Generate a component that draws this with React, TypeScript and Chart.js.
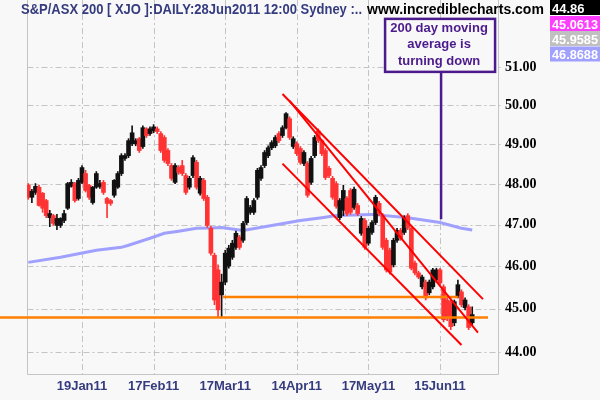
import React, { useEffect, useRef } from 'react';
import { Chart, registerables } from 'chart.js';

Chart.register(...registerables);

const BG = '#f8f8f8';
const GRID = '#c4c4c4';
const UP = '#111111';
const DOWN = '#ff3333';
const NAVY = '#353b7f';
const PURPLE = '#4b1a8c';

// x axis: trading-day index, labelled days
const tickIdx = [15, 35, 55, 75, 95, 115];
const tickLabels = ['19Jan11', '17Feb11', '17Mar11', '14Apr11', '17May11', '15Jun11'];
const priceTicks = [44, 45, 46, 47, 48, 49, 50, 51];

// daily OHLC (index 0 = 24 Dec 2010 ... 124 = 28 Jun 2011)
const opens = [
  47.97, 47.67, 47.79, 47.92, 47.77, 47.59, 47.17, 47.22, 46.98, 46.98,
  47.10, 47.40, 47.94, 48.01, 47.64, 48.04, 48.26, 47.97, 47.54, 47.92,
  47.94, 48.04, 47.64, 47.59, 47.72, 47.92, 48.26, 48.64, 48.71, 49.01,
  49.01, 49.14, 48.94, 49.39, 49.27, 49.34, 49.39, 49.27, 49.17, 48.84,
  48.46, 48.04, 48.41, 48.46, 48.21, 47.92, 48.21, 48.54, 47.77, 48.09,
  47.67, 46.91, 46.26, 45.91, 45.32, 45.62, 46.00, 46.21, 46.45, 46.69,
  46.62, 47.05, 47.30, 47.30, 47.67, 48.14, 48.46, 48.71, 48.91, 48.96,
  49.27, 49.22, 49.42, 49.65, 48.94, 49.01, 48.89, 48.51, 48.51, 48.04,
  48.71, 49.34, 49.09, 48.84, 48.39, 48.14, 48.01, 47.17, 47.35, 47.64,
  47.84, 47.42, 47.47, 46.79, 47.10, 46.55, 46.81, 47.05, 47.52, 47.22,
  46.62, 46.38, 46.03, 46.62, 46.86, 46.81, 47.22, 46.91, 46.07, 45.84,
  45.51, 45.62, 45.37, 45.51, 45.67, 45.91, 45.51, 45.20, 45.16, 44.67,
  45.30, 45.39, 45.02, 45.04, 44.67,
];
const highs = [
  48.01, 47.87, 48.01, 47.97, 47.79, 47.62, 47.35, 47.25, 47.25, 47.17,
  47.35, 48.04, 48.11, 48.04, 48.14, 48.46, 48.34, 47.99, 47.94, 48.31,
  48.09, 48.09, 47.67, 47.62, 48.11, 48.31, 48.76, 48.76, 49.14, 49.47,
  49.14, 49.17, 49.47, 49.42, 49.44, 49.50, 49.44, 49.32, 49.22, 48.89,
  48.51, 48.51, 48.46, 48.59, 48.26, 48.19, 48.71, 48.59, 48.19, 48.14,
  47.72, 46.96, 46.31, 46.03, 45.81, 46.38, 46.50, 46.62, 46.84, 46.74,
  47.08, 47.69, 47.47, 47.64, 48.39, 48.46, 48.84, 48.96, 49.09, 49.22,
  49.32, 49.47, 49.81, 49.70, 49.19, 49.06, 48.94, 48.84, 48.56, 48.69,
  49.22, 49.39, 49.12, 48.89, 48.44, 48.19, 48.06, 47.64, 47.97, 47.69,
  47.89, 47.92, 47.52, 47.20, 47.15, 46.96, 47.10, 47.72, 47.57, 47.27,
  46.67, 46.43, 46.67, 46.91, 46.91, 47.22, 47.27, 46.96, 46.12, 45.88,
  45.79, 45.67, 45.67, 45.95, 45.95, 45.95, 45.56, 45.25, 45.20, 45.20,
  45.67, 45.44, 45.25, 45.09, 45.04,
];
const lows = [
  47.62, 47.54, 47.74, 47.45, 47.30, 47.17, 46.95, 46.98, 46.88, 46.93,
  47.05, 47.37, 47.92, 47.55, 47.60, 48.01, 47.80, 47.62, 47.50, 47.89,
  47.89, 47.74, 47.17, 47.47, 47.67, 47.89, 48.21, 48.59, 48.66, 48.96,
  48.96, 48.79, 48.89, 49.17, 49.22, 49.29, 49.27, 48.79, 48.54, 48.46,
  48.09, 48.01, 48.24, 48.21, 47.74, 47.87, 48.16, 47.87, 47.72, 47.59,
  46.93, 46.26, 45.09, 44.79, 44.79, 45.56, 45.95, 46.16, 46.40, 46.40,
  46.57, 47.00, 47.25, 47.25, 47.62, 48.09, 48.41, 48.66, 48.86, 48.91,
  49.04, 49.17, 49.39, 49.12, 48.89, 48.71, 48.49, 48.46, 47.67, 47.99,
  48.66, 49.04, 48.71, 48.11, 48.16, 47.62, 47.40, 47.12, 47.22, 47.22,
  47.25, 47.37, 47.22, 46.74, 46.40, 46.50, 46.76, 47.00, 47.22, 46.40,
  45.86, 45.81, 45.98, 46.57, 46.62, 46.76, 46.88, 45.91, 45.79, 45.70,
  45.46, 45.20, 45.32, 45.46, 45.62, 45.56, 44.69, 44.72, 44.51, 44.60,
  45.25, 45.04, 44.97, 44.51, 44.60,
];
const closes = [
  47.67, 47.82, 47.94, 47.47, 47.40, 47.22, 47.27, 47.03, 47.15, 47.15,
  47.27, 48.01, 48.04, 47.59, 48.09, 48.41, 47.84, 47.67, 47.92, 48.26,
  48.01, 47.79, 47.52, 47.52, 48.09, 48.26, 48.71, 48.71, 49.09, 49.29,
  49.09, 48.84, 49.42, 49.22, 49.39, 49.44, 49.32, 48.84, 48.59, 48.51,
  48.14, 48.46, 48.29, 48.26, 47.79, 48.14, 48.66, 47.92, 48.14, 47.64,
  46.98, 46.31, 45.20, 44.97, 45.62, 46.31, 46.43, 46.55, 46.79, 46.45,
  47.03, 47.64, 47.42, 47.59, 48.34, 48.41, 48.79, 48.91, 49.04, 49.17,
  49.09, 49.42, 49.78, 49.17, 49.14, 48.76, 48.54, 48.79, 47.72, 48.64,
  49.17, 49.09, 48.76, 48.16, 48.21, 47.67, 47.45, 47.59, 47.84, 47.27,
  47.30, 47.87, 47.27, 47.15, 46.45, 46.91, 47.05, 47.67, 47.27, 46.45,
  45.91, 45.86, 46.62, 46.86, 46.67, 47.17, 46.93, 45.95, 45.84, 45.74,
  45.74, 45.25, 45.62, 45.91, 45.91, 45.60, 44.74, 44.79, 44.58, 45.16,
  45.56, 45.09, 45.20, 44.56, 44.86,
];

// 200-day moving average, read at selected days
const maIdx = [0, 9, 19, 26, 28, 34, 38, 42, 47, 51, 54, 60, 68, 76, 82, 86, 96, 106, 115, 121, 124];
const maVals = [46.09, 46.21, 46.38, 46.45, 46.5, 46.67, 46.79, 46.84, 46.91, 46.92, 46.93, 46.86, 46.98, 47.1, 47.17, 47.22, 47.25, 47.17, 47.05, 46.91, 46.87];

// drawn trend lines (day index, price)
const upperChannelX = [71, 127];
const upperChannelY = [50.29, 45.22];
const steepLineX = [73, 125.6];
const steepLineY = [50.11, 44.44];
const lowerChannelX = [71, 121];
const lowerChannelY = [48.51, 44.16];
const supportLowX = [-7.9, 128.4];
const supportLowY = [44.79, 44.79];
const supportHighX = [54.4, 120];
const supportHighY = [45.27, 45.27];
const noteX = [115.3, 115.3];
const noteY = [50.87, 47.13];

const titleText = 'S&P/ASX 200 [ XJO ]:DAILY:28Jun2011 12:00 Sydney :..';
const siteText = 'www.incrediblecharts.com';
const valueLabels = ['44.86', '45.0613', '45.9585', '46.8688'];
const valueColors = ['#000000', '#ff3cff', '#c0c0c0', '#a0a0ff'];
const noteLines = ['200 day moving', 'average is', 'turning down'];

const pts = (xs: number[], ys: number[]) => xs.map((x, i) => ({ x, y: ys[i] }));

const decor = {
  id: 'decor',
  beforeDraw(chart: any) {
    const { ctx, width, height } = chart;
    ctx.save();
    ctx.fillStyle = BG;
    ctx.fillRect(0, 0, width, height);
    ctx.restore();
  },
  beforeDatasetsDraw(chart: any) {
    const { ctx, chartArea: ca } = chart;
    const xs = chart.scales.x;
    const ys = chart.scales.y;
    const L = Math.round(ca.left) + 0.5;
    const R = Math.round(ca.right) - 0.5;
    const B = Math.round(ca.bottom) + 0.5;
    const seg = (x1: number, y1: number, x2: number, y2: number) => {
      ctx.beginPath();
      ctx.moveTo(x1, y1);
      ctx.lineTo(x2, y2);
      ctx.stroke();
    };
    ctx.save();
    ctx.strokeStyle = GRID;
    ctx.lineWidth = 1;
    ctx.setLineDash([6, 3, 2, 3]);
    ys.ticks.forEach((t: any) => {
      const y = Math.round(ys.getPixelForValue(t.value)) + 0.5;
      seg(L, y, R + 5, y);
    });
    xs.ticks.forEach((t: any) => {
      const x = Math.round(xs.getPixelForValue(t.value)) + 0.5;
      seg(x, 0, x, B);
    });
    ctx.setLineDash([]);
    seg(L, 0, L, B);
    seg(R, 0, R, B);
    seg(L, B, R, B);
    ctx.restore();
  },
  afterDraw(chart: any) {
    const { ctx } = chart;
    const xs = chart.scales.x;
    const ys = chart.scales.y;
    ctx.save();
    ctx.textAlign = 'left';
    ctx.textBaseline = 'alphabetic';
    ctx.font = 'bold 14px "Liberation Sans", Arial, sans-serif';
    ctx.fillStyle = NAVY;
    ctx.fillText(titleText, 21, 14, 341);
    ctx.fillStyle = '#000000';
    ctx.fillText(siteText, 367, 14, 177);

    // value boxes
    const tops = [0, 16, 31, 46.5];
    ctx.font = 'bold 13px "Liberation Sans", Arial, sans-serif';
    valueLabels.forEach((t, i) => {
      ctx.fillStyle = valueColors[i];
      ctx.fillRect(550, tops[i], 50, 15);
      ctx.fillStyle = '#ffffff';
      ctx.fillText(t, 552, tops[i] + 12.5, 46);
    });

    // annotation box
    const px = xs.getPixelForValue(noteX[0]);
    const bottom = ys.getPixelForValue(noteY[0]);
    const left = px - 56;
    const top = bottom - 53;
    ctx.fillStyle = BG;
    ctx.fillRect(left, top, 110, 53);
    ctx.strokeStyle = PURPLE;
    ctx.lineWidth = 2.5;
    ctx.strokeRect(left, top, 110, 53);
    ctx.fillStyle = PURPLE;
    ctx.textAlign = 'center';
    ctx.font = 'bold 13px "Liberation Sans", Arial, sans-serif';
    const bases = [13, 29.5, 46];
    noteLines.forEach((t, i) => ctx.fillText(t, left + 54, top + bases[i], 104));
    ctx.restore();
  },
};

export default function App() {
  const ref = useRef<HTMLCanvasElement | null>(null);
  useEffect(() => {
    if (!ref.current) return;
    const colors = closes.map((c, i) => (c < opens[i] ? DOWN : UP));
    const lineDs = (data: any[], color: string, width: number, order: number, extra: any = {}) => ({
      type: 'line',
      data,
      borderColor: color,
      backgroundColor: color,
      borderWidth: width,
      pointRadius: 0,
      tension: 0,
      order,
      ...extra,
    });
    const chart = new Chart(ref.current, {
      type: 'bar',
      data: {
        datasets: [
          lineDs(pts(maIdx, maVals), '#a0a0ff', 3, 10) as any,
          {
            type: 'bar',
            data: opens.map((o, i) => ({ x: i, y: [lows[i], highs[i]] })),
            backgroundColor: colors,
            barThickness: 1,
            grouped: false,
            borderWidth: 0,
            order: 9,
          },
          {
            type: 'bar',
            data: opens.map((o, i) => ({ x: i, y: [Math.min(o, closes[i]), Math.max(o, closes[i])] })),
            backgroundColor: colors,
            barThickness: 4,
            grouped: false,
            borderWidth: 0,
            order: 8,
          },
          lineDs(pts(supportLowX, supportLowY), '#ff8000', 2.5, 5, { clip: false }) as any,
          lineDs(pts(supportHighX, supportHighY), '#ff8000', 2.5, 5) as any,
          lineDs(pts(upperChannelX, upperChannelY), '#ff0000', 2, 3) as any,
          lineDs(pts(steepLineX, steepLineY), '#ff0000', 2, 3) as any,
          lineDs(pts(lowerChannelX, lowerChannelY), '#ff0000', 2, 3) as any,
          lineDs(pts(noteX, noteY), PURPLE, 2.5, 1) as any,
        ],
      },
      options: {
        animation: false,
        responsive: false,
        devicePixelRatio: 1,
        layout: { padding: { left: 27, top: 0, right: 0, bottom: 0 } },
        plugins: { legend: { display: false }, tooltip: { enabled: false }, title: { display: false } },
        scales: {
          x: {
            type: 'linear',
            min: -0.363,
            max: 131.48,
            offset: false,
            grid: { display: false, offset: false, drawTicks: false },
            border: { display: false },
            ticks: {
              autoSkip: false,
              maxRotation: 0,
              padding: 5,
              color: NAVY,
              font: { family: '"Liberation Sans", Arial, sans-serif', size: 13, weight: 'bold' },
              callback: (v: any) => {
                const k = tickIdx.indexOf(Number(v));
                return k >= 0 ? tickLabels[k] : '';
              },
            },
            afterBuildTicks: (s: any) => {
              s.ticks = tickIdx.map((v) => ({ value: v }));
            },
            afterFit: (s: any) => {
              s.height = 26;
              s.paddingLeft = 0;
              s.paddingRight = 0;
            },
          } as any,
          y: {
            type: 'logarithmic',
            position: 'right',
            min: 43.5,
            max: 52.8,
            grid: { display: false, drawTicks: false },
            border: { display: false },
            ticks: {
              autoSkip: false,
              padding: 6,
              color: '#000000',
              font: { family: '"Liberation Serif", "Times New Roman", serif', size: 14, weight: 'bold' },
              callback: (v: any) => Number(v).toFixed(2),
            },
            afterBuildTicks: (s: any) => {
              s.ticks = priceTicks.map((v) => ({ value: v }));
            },
            afterFit: (s: any) => {
              s.width = 101;
              s.paddingTop = 0;
              s.paddingBottom = 0;
            },
          } as any,
        },
      },
      plugins: [decor],
    } as any);
    return () => chart.destroy();
  }, []);
  return (
    <div style={{ position: 'fixed', left: 0, top: 0, width: 600, height: 400, background: BG }}>
      <canvas ref={ref} width={600} height={400} style={{ display: 'block', width: 600, height: 400 }} />
    </div>
  );
}
